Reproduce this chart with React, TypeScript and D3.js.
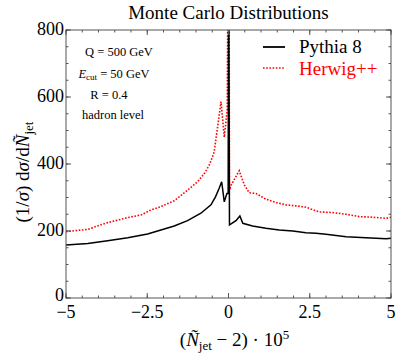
import React from "react";
import * as d3 from "d3";

// values
const pythiaX = [-5, -4.33, -3.72, -3.1, -2.49, -2.08, -1.67, -1.26, -0.85, -0.54, -0.4, -0.29, -0.21, -0.13, -0.05, -0.01, 0, 0.01, 0.03, 0.23, 0.35, 0.44, 0.74, 1.15, 1.56, 1.98, 2.38, 2.69, 3.0, 3.62, 4.23, 4.85, 5];
const pythiaY = [158, 163, 171, 180, 191, 203, 215, 231, 253, 278, 302, 327, 347, 287, 312, 312, 900, 900, 218, 231, 245, 223, 215, 208, 203, 200, 195, 193, 190, 183, 180, 177, 178];

const herwigX = [-5, -4.33, -3.72, -3.1, -2.69, -2.38, -2.08, -1.67, -1.26, -0.95, -0.74, -0.59, -0.49, -0.44, -0.23, -0.13, -0.04, -0.02, 0.02, 0.03, 0.08, 0.33, 0.49, 0.64, 0.85, 1.15, 1.46, 1.77, 2.08, 2.38, 2.79, 3.2, 3.62, 4.02, 4.44, 4.85, 5];
const herwigY = [198, 205, 225, 240, 248, 263, 273, 290, 322, 347, 372, 397, 422, 437, 586, 480, 560, 900, 900, 322, 337, 380, 337, 314, 312, 295, 285, 278, 275, 271, 257, 255, 250, 243, 241, 238, 241];

const xTicks = [-5, -2.5, 0, 2.5, 5];
const xTickLabels = ["\u22125", "\u22122.5", "0", "2.5", "5"];
const yTicks = [0, 200, 400, 600, 800];

const W = 399;
const H = 357;
const L = 66, R = 391, T = 30, B = 298;
const FONT = "Liberation Serif, DejaVu Serif, serif";

export default function App() {
  const x = d3.scaleLinear().domain([-5, 5]).range([L, R]);
  const y = d3.scaleLinear().domain([0, 800]).range([B, T]);

  const mk = (xs: number[], ys: number[]) =>
    d3
      .line<number>()
      .x((v) => x(v))
      .y((_, i) => y(ys[i]))(xs) as string;

  const xMinor = d3.range(-5, 5.001, 0.5);
  const yMinor = d3.range(0, 800.1, 50);

  return (
    <svg width={W} height={H} style={{ position: "absolute", left: 0, top: 0 }} fontFamily={FONT}>
      <defs>
        <clipPath id="plot">
          <rect x={L} y={T} width={R - L} height={B - T} />
        </clipPath>
      </defs>
      <rect x={0} y={0} width={W} height={H} fill="white" />
      <text x={(L + R) / 2} y={19} textAnchor="middle" fontSize={19}>
        Monte Carlo Distributions
      </text>

      <g clipPath="url(#plot)">
        <path d={mk(herwigX, herwigY)} fill="none" stroke="#ff0000" strokeWidth={1.6} strokeDasharray="1.6 1.6" />
        <path d={mk(pythiaX, pythiaY)} fill="none" stroke="black" strokeWidth={1.5} />
      </g>

      {/* frame */}
      <rect x={L} y={T} width={R - L} height={B - T} fill="none" stroke="#555" strokeWidth={1} />
      {/* minor ticks */}
      {xMinor.map((v) => (
        <g key={"xm" + v} stroke="#555">
          <line x1={x(v)} x2={x(v)} y1={B} y2={B - 2.5} />
          <line x1={x(v)} x2={x(v)} y1={T} y2={T + 2.5} />
        </g>
      ))}
      {yMinor.map((v) => (
        <g key={"ym" + v} stroke="#555">
          <line x1={L} x2={L + 2.5} y1={y(v)} y2={y(v)} />
          <line x1={R} x2={R - 2.5} y1={y(v)} y2={y(v)} />
        </g>
      ))}
      {xTicks.map((v, i) => (
        <g key={"xt" + v}>
          <line x1={x(v)} x2={x(v)} y1={B} y2={B - 5} stroke="#555" />
          <line x1={x(v)} x2={x(v)} y1={T} y2={T + 5} stroke="#555" />
          <text x={x(v)} y={B + 20} textAnchor="middle" fontSize={18}>
            {xTickLabels[i]}
          </text>
        </g>
      ))}
      {yTicks.map((v) => (
        <g key={"yt" + v}>
          <line x1={L} x2={L + 5} y1={y(v)} y2={y(v)} stroke="#555" />
          <line x1={R} x2={R - 5} y1={y(v)} y2={y(v)} stroke="#555" />
          <text x={L - 2} y={y(v) + (v === 0 ? 3 : 5)} textAnchor="end" fontSize={18}>
            {v}
          </text>
        </g>
      ))}

      {/* axis titles */}
      <text x={(L + R) / 2 + 6} y={346} textAnchor="middle" fontSize={19}>
        (<tspan fontStyle="italic">Ñ</tspan>
        <tspan dy={4} fontSize={13}>jet</tspan>
        <tspan dy={-4}> {"\u2212"} 2) · 10</tspan>
        <tspan dy={-7} fontSize={13}>5</tspan>
      </text>
      <text transform={`translate(29, 172) rotate(-90)`} textAnchor="middle" fontSize={19}>
        (1/<tspan fontStyle="italic">σ</tspan>) d<tspan fontStyle="italic">σ</tspan>/d<tspan fontStyle="italic">Ñ</tspan>
        <tspan dy={4} fontSize={13}>jet</tspan>
      </text>

      {/* annotations */}
      <g fontSize={12.5} textAnchor="middle">
        <text x={119} y={56}>Q = 500 GeV</text>
        <text x={114} y={78}>
          <tspan fontStyle="italic">E</tspan>
          <tspan fontSize={9} dy={2}>cut</tspan>
          <tspan dy={-2}> = 50 GeV</tspan>
        </text>
        <text x={109} y={99}>R = 0.4</text>
        <text x={113} y={119}>hadron level</text>
      </g>

      {/* legend */}
      <line x1={263} x2={285} y1={47} y2={47} stroke="black" strokeWidth={1.8} />
      <text x={299} y={53} fontSize={19}>Pythia 8</text>
      <line x1={263} x2={285} y1={68} y2={68} stroke="#ff0000" strokeWidth={1.6} strokeDasharray="1.6 1.6" />
      <text x={299} y={75} fontSize={19} fill="#ff0000">Herwig++</text>
    </svg>
  );
}
